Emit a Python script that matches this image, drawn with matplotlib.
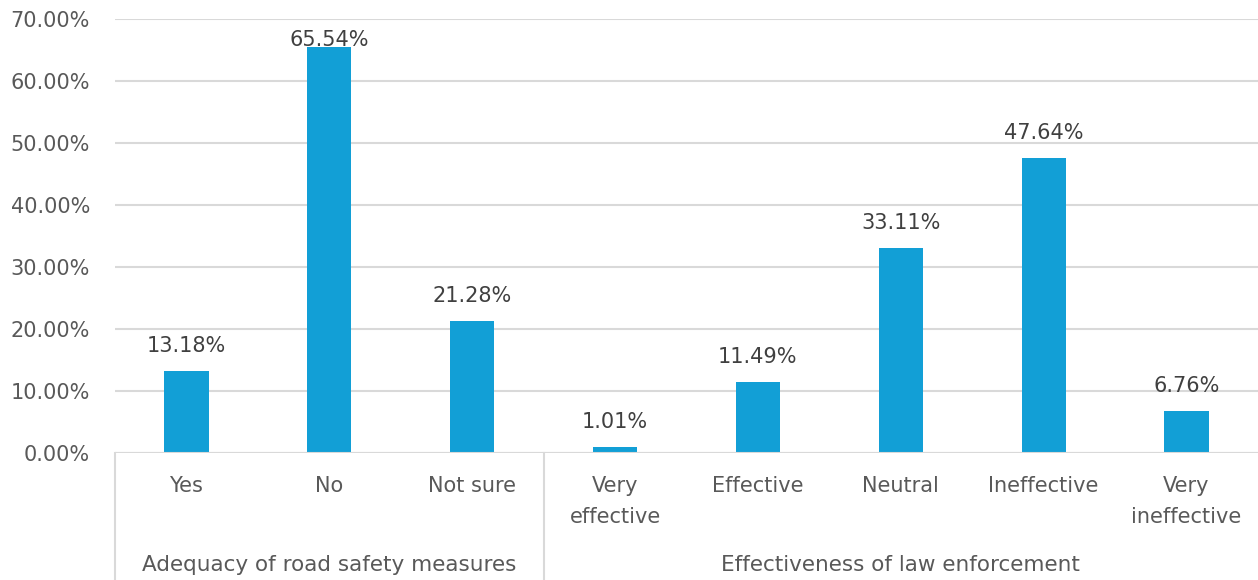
import matplotlib
matplotlib.use('Agg')
import matplotlib.pyplot as plt
import matplotlib.transforms as mtransforms
from matplotlib.ticker import FuncFormatter

# survey results (percent of respondents)
groups = ['Adequacy of road safety measures', 'Effectiveness of law enforcement']
group_sizes = [3, 5]
categories = ['Yes', 'No', 'Not sure',
              'Very\neffective', 'Effective', 'Neutral', 'Ineffective', 'Very\nineffective']
values = [13.18, 65.54, 21.28, 1.01, 11.49, 33.11, 47.64, 6.76]

bar_color = '#129FD6'
text_color = '#595959'
label_color = '#404040'
grid_color = '#D9D9D9'

plt.rcParams['font.family'] = ['DejaVu Sans']

W, H = 1258, 580
fig = plt.figure(figsize=(W / 100, H / 100), dpi=100)
ax = fig.add_axes([115 / W, 1 - 453 / H, (W - 115) / W, (453 - 19) / H])
ax_px = 453 - 19
ymax = 70
px = ymax / ax_px  # data units per pixel

x = list(range(len(values)))
ax.bar(x, values, width=0.31, color=bar_color, zorder=3)

# value labels sit above the bars, but are kept inside the plot area
for xi, v in zip(x, values):
    y = min(v + 19 * px, ymax - 27 * px)
    ax.text(xi, y, f'{v:.2f}%', ha='center', va='baseline',
            fontsize=15, color=label_color, zorder=5)

ax.set_xlim(-0.5, len(values) - 0.5)
ax.set_ylim(0, ymax)
ax.set_yticks(range(0, 71, 10))
ax.yaxis.set_major_formatter(FuncFormatter(lambda v, _: f'{v:.2f}%'))
ax.tick_params(axis='y', length=0, pad=18, labelsize=15, labelcolor=text_color)
ax.set_xticks([])
ax.grid(axis='y', color=grid_color, linewidth=1.5, zorder=0)
for s in ax.spines.values():
    s.set_visible(False)
ax.axhline(0, color=grid_color, linewidth=1.5, zorder=4)

# two-level category axis
trans = mtransforms.blended_transform_factory(ax.transData, ax.transAxes)
for xi, lab in zip(x, categories):
    ax.text(xi, -(476 - 453) / ax_px, lab, transform=trans, ha='center', va='top',
            fontsize=15, color=text_color, linespacing=1.7)

start = -0.5
bottom = -(H - 453) / ax_px
for name, n in zip(groups, group_sizes):
    ax.plot([start, start], [0, bottom], transform=trans, color=grid_color,
            linewidth=1.5, clip_on=False)
    ax.text(start + n / 2, -(565 - 453) / ax_px, name, transform=trans, ha='center',
            va='center', fontsize=15.5, color=text_color)
    start += n

fig.savefig('out.png', dpi=100)
